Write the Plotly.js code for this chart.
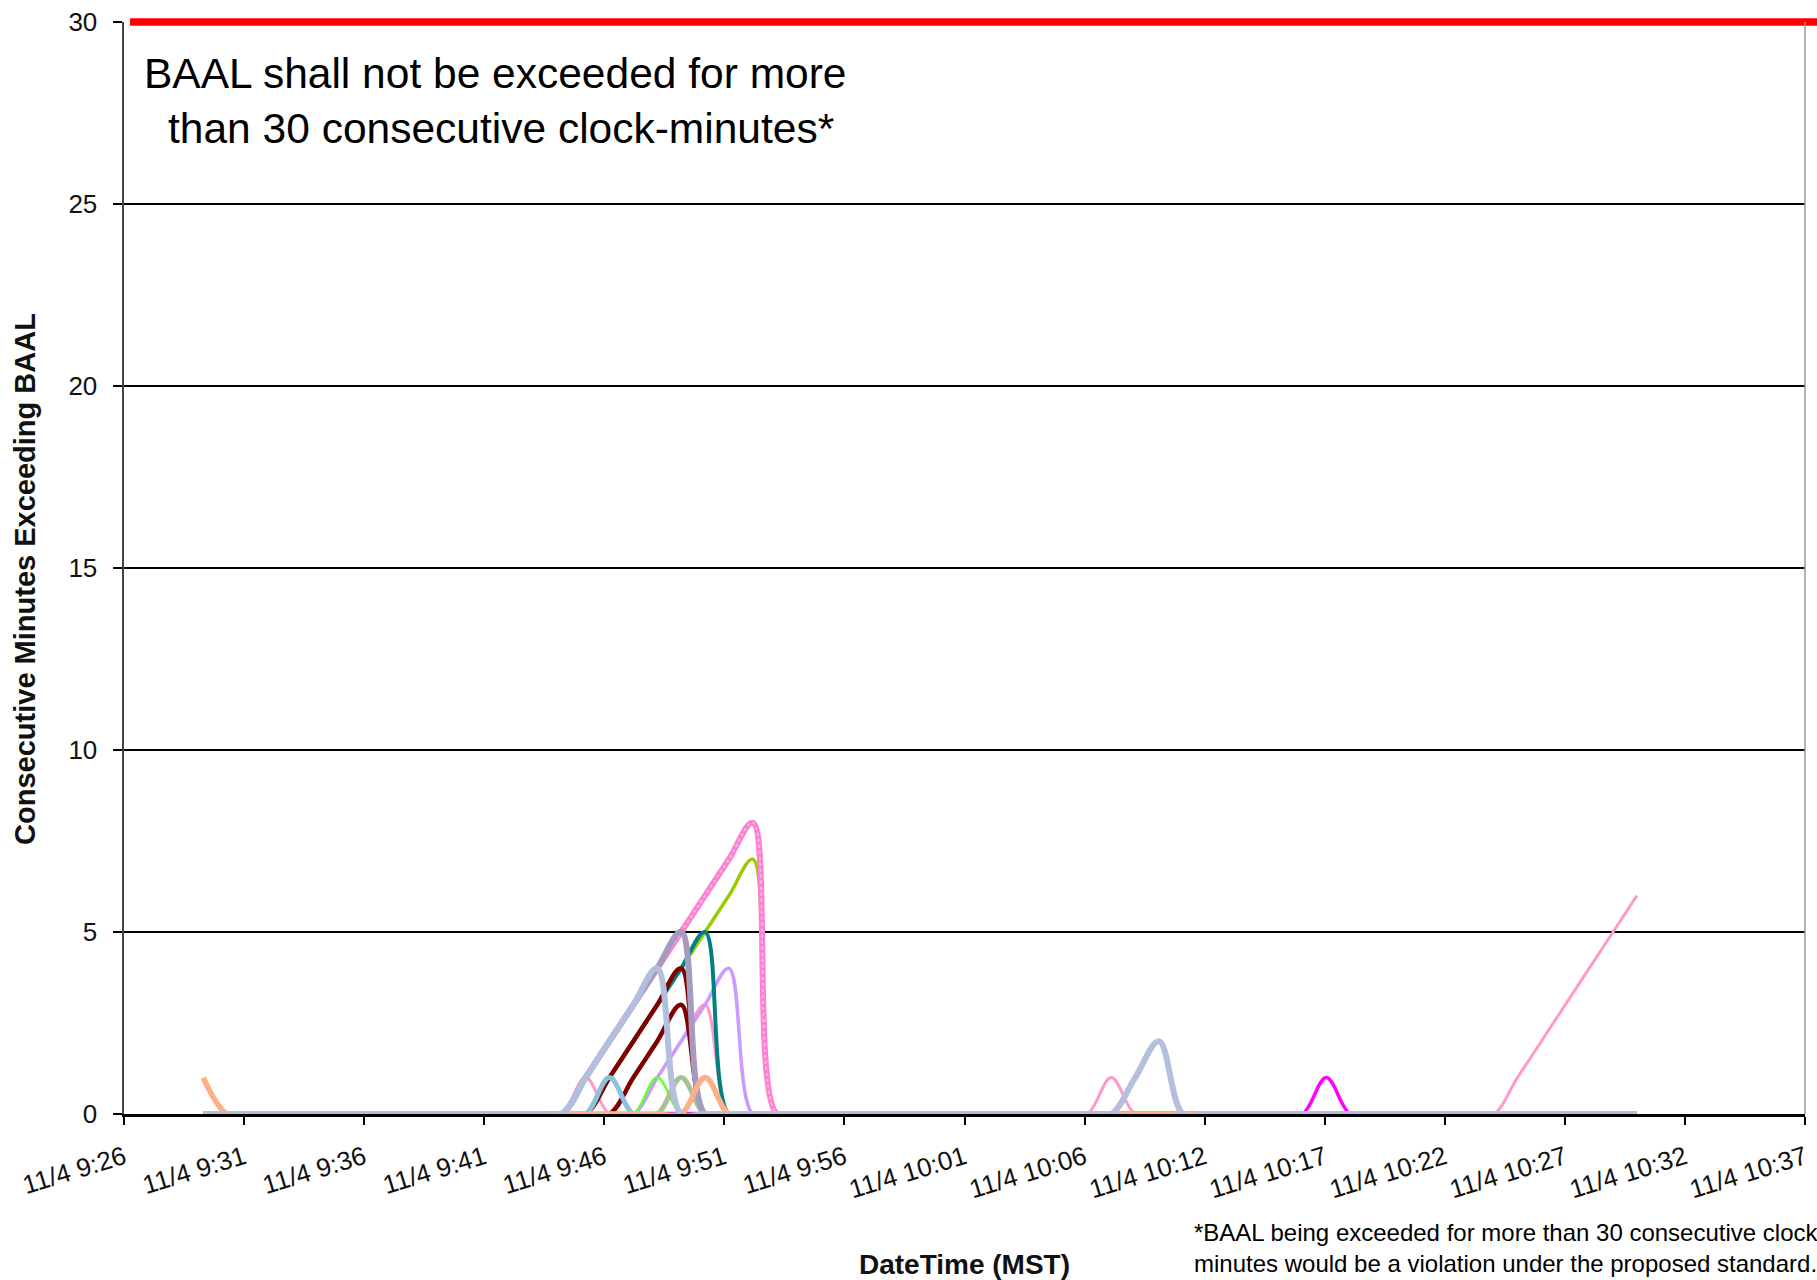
<!DOCTYPE html>
<html>
<head>
<meta charset="utf-8">
<script src="https://cdn.plot.ly/plotly-3.0.1.min.js"></script>
<style>
  html, body { margin: 0; padding: 0; background: #fff; }
  #chart { width: 1817px; height: 1280px; }
</style>
</head>
<body>
<div id="chart"></div>
<script>
// ---- Data (x = minutes after 11/4 9:26, samples logged ~19 s past each minute) ----
const tickLabels = ["11/4 9:26","11/4 9:31","11/4 9:36","11/4 9:41","11/4 9:46","11/4 9:51","11/4 9:56",
  "11/4 10:01","11/4 10:06","11/4 10:12","11/4 10:17","11/4 10:22","11/4 10:27","11/4 10:32","11/4 10:37"];
const tickStepMin = 5.025;      // axis major unit (minutes)
const sampleSec = 19;           // seconds past the minute of each sample
const baalLimit = 30;           // consecutive clock-minutes limit
const yMax = 30;

const lightPinkMin = [3,17,18,19,20,21,22,23,24,25,26,39,40,41,42,43,56,57,58,59,60,61,62,63];
const lightPinkVal = [0,0,0,1,0,0,1,2,3,0,0,0,0,1,0,0,0,0,1,2,3,4,5,6];
const hotPinkMin = [3,17,18,19,20,21,22,23,24,25,26,27,28,63];
const hotPinkVal = [0,0,0,1,2,3,4,5,6,7,8,0,0,0];
const yellowGreenMin = [3,18,19,20,21,22,23,24,25,26,27,28,63];
const yellowGreenVal = [0,0,0,1,2,3,4,5,6,7,0,0,0];
const violetMin = [3,20,21,22,23,24,25,26,27,63];
const violetVal = [0,0,0,1,2,3,4,0,0,0];
const tealMin = [3,18,19,20,21,22,23,24,25,26,63];
const tealVal = [0,0,0,1,2,3,4,5,0,0,0];
const maroonBMin = [3,19,20,21,22,23,24,25,63];
const maroonBVal = [0,0,0,1,2,3,0,0,0];
const maroonAMin = [3,18,19,20,21,22,23,24,25,63];
const maroonAVal = [0,0,0,1,2,3,4,0,0,0];
const greenMin = [3,20,21,22,23,24,63];
const greenVal = [0,0,0,1,0,0,0];
const sageMin = [3,21,22,23,24,25,63];
const sageVal = [0,0,0,1,0,0,0];
const skyMin = [3,18,19,20,21,22,63];
const skyVal = [0,0,0,1,0,0,0];
const greyPurpleMin = [3,17,18,19,20,21,22,23,24,25,63];
const greyPurpleVal = [0,0,0,1,2,3,4,5,0,0,0];
const magentaMin = [3,48,49,50,51,52,63];
const magentaVal = [0,0,0,1,0,0,0];
const orangeMin = [3,4,5,6,21,22,23,24,25,26,63];
const orangeVal = [1,0,0,0,0,0,0,1,0,0,0];
const lightBlueMin = [3,17,18,19,20,21,22,23,24,40,41,42,43,44,45,63];
const lightBlueVal = [0,0,0,1,2,3,4,0,0,0,0,1,2,0,0,0];

const FONT = "Liberation Sans, Arial, Helvetica, sans-serif";
const toX = arr => arr.map(m => m + sampleSec / 60);

function line(mins, vals, color, width, dash) {
  return {
    type: "scatter", mode: "lines",
    x: toX(mins), y: vals,
    line: { color: color, width: width, shape: "spline", smoothing: 1, dash: dash || "solid" },
    hoverinfo: "skip", showlegend: false
  };
}

const traces = [
  line(lightPinkMin, lightPinkVal, "#FF99CC", 3),
  line(yellowGreenMin, yellowGreenVal, "#99CC00", 3.5),
  line(hotPinkMin, hotPinkVal, "#FF80CC", 6),
  line(hotPinkMin, hotPinkVal, "#F2B8F0", 2, "dot"),
  line(violetMin, violetVal, "#CC99FF", 3.5),
  line(tealMin, tealVal, "#008080", 4),
  line(maroonBMin, maroonBVal, "#800000", 4.5),
  line(maroonAMin, maroonAVal, "#800000", 4.5),
  line(greenMin, greenVal, "#66FF33", 2.5),
  line(sageMin, sageVal, "#A9C194", 5),
  line(skyMin, skyVal, "#8CC3DC", 5),
  line(greyPurpleMin, greyPurpleVal, "#A59BC0", 6),
  line(magentaMin, magentaVal, "#FF00FF", 3.5),
  line(orangeMin, orangeVal, "#FFAF85", 5.5),
  line(lightBlueMin, lightBlueVal, "#B3BFDD", 6)
];

const tickVals = tickLabels.map((_, k) => k * tickStepMin);

const layout = {
  width: 1817, height: 1280,
  margin: { l: 124, r: 12, t: 22, b: 166 },
  paper_bgcolor: "#fff", plot_bgcolor: "#fff",
  font: { family: FONT, color: "#111" },
  showlegend: false,
  xaxis: {
    range: [0, tickVals[tickVals.length - 1]],
    tickmode: "array", tickvals: tickVals, ticktext: tickLabels,
    tickangle: -17,
    tickfont: { family: FONT, size: 26, color: "#111" },
    ticks: "outside", ticklen: 8, tickwidth: 2, tickcolor: "#000",
    ticklabelstandoff: 8,
    showline: true, linecolor: "#000", linewidth: 2.5,
    showgrid: false, zeroline: false,
    title: { text: "<b>DateTime (MST)</b>", font: { family: FONT, size: 28, color: "#111" }, standoff: 51 }
  },
  yaxis: {
    range: [0, yMax], dtick: 5, tick0: 0,
    tickfont: { family: FONT, size: 26, color: "#111" },
    ticks: "outside", ticklen: 9, tickwidth: 2, tickcolor: "#000",
    ticklabelstandoff: 10,
    showline: true, linecolor: "#444", linewidth: 2.5,
    showgrid: true, gridcolor: "#000", gridwidth: 2,
    zeroline: false
  },
  shapes: [
    { type: "line", xref: "paper", yref: "paper", x0: 0.0036, x1: 1.02,
      y0: baalLimit / yMax, y1: baalLimit / yMax,
      line: { color: "#FF0000", width: 7.5 } },
    { type: "line", xref: "paper", yref: "paper", x0: 1, x1: 1, y0: 0, y1: 1,
      line: { color: "#9a9a9a", width: 1.5 } }
  ],
  annotations: [
    { xref: "paper", yref: "paper", x: -0.0589, y: 0.49, xanchor: "center", yanchor: "middle",
      showarrow: false, textangle: -90,
      text: "<b>Consecutive Minutes Exceeding BAAL</b>",
      font: { family: FONT, size: 29, color: "#111" } },
    { xref: "paper", yref: "paper", x: 0.2205, y: 0.9275, xanchor: "center", yanchor: "middle",
      showarrow: false, align: "center",
      text: "BAAL shall not be exceeded for more<br> than 30 consecutive clock-minutes*",
      font: { family: FONT, size: 42.5, color: "#000" } },
    { xref: "paper", yref: "paper", x: 0.6353, y: -0.094, xanchor: "left", yanchor: "top",
      showarrow: false, align: "left",
      text: "*BAAL being exceeded for more than 30 consecutive clock-<br>minutes would be a violation under the proposed standard.",
      font: { family: FONT, size: 24, color: "#000" } }
  ]
};

Plotly.newPlot("chart", traces, layout, { staticPlot: true, displayModeBar: false });
</script>
</body>
</html>
